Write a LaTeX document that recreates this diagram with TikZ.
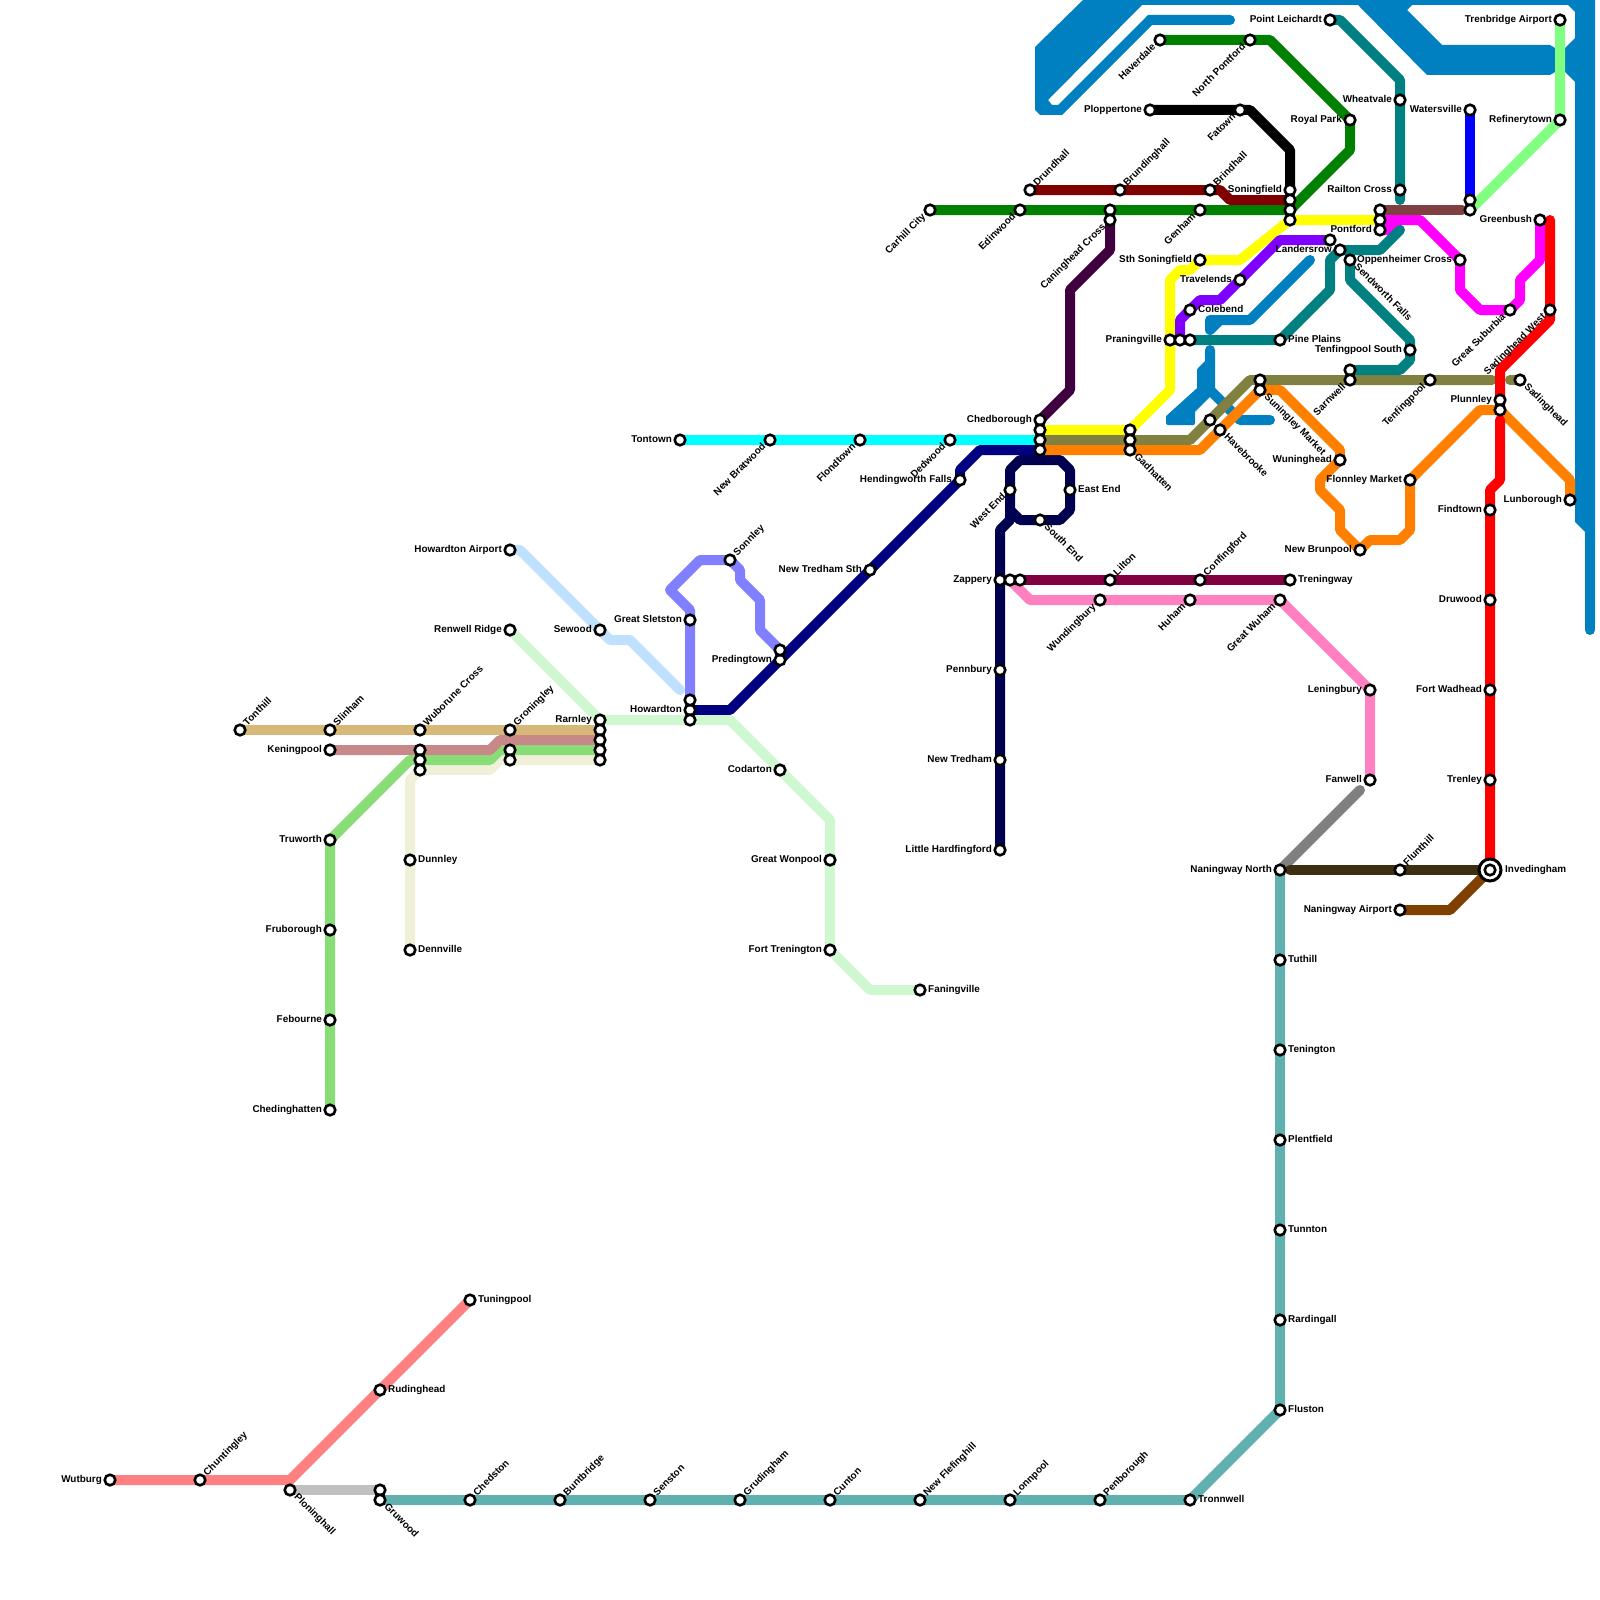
\documentclass[tikz,border=0pt]{standalone}
\usepackage{fontspec}
\setmainfont{Liberation Sans}
\pgfdeclarelayer{lines}
\pgfsetlayers{lines,main}
\tikzset{
  stn/.style={circle,draw=black,fill=white,line width=2.6pt,minimum size=10.6pt,inner sep=0pt},
  lbl/.style={font=\bfseries\fontsize{9.9}{12}\selectfont,inner sep=0pt,text=black,text height=7pt,text depth=2pt},
  ln/.style={line width=10pt,line cap=round,line join=round},
  riv/.style={fill=rivercol,draw=none}
}
\definecolor{rivercol}{HTML}{0080C0}
\definecolor{salmon}{HTML}{FF8080}
\definecolor{tealL}{HTML}{60B0B0}
\definecolor{teal2}{HTML}{008080}
\definecolor{navyD}{HTML}{000050}
\definecolor{navyB}{HTML}{000080}
\definecolor{plum}{HTML}{800040}
\definecolor{pinkL}{HTML}{FF80C0}
\definecolor{oliveL}{HTML}{808040}
\definecolor{orangeL}{HTML}{FF8000}
\definecolor{grape}{HTML}{8000FF}
\definecolor{greenD}{HTML}{008000}
\definecolor{maroonL}{HTML}{800000}
\definecolor{aubergine}{HTML}{400040}
\definecolor{rosewood}{HTML}{804040}
\definecolor{mint}{HTML}{80FF80}
\definecolor{skyL}{HTML}{C0E0FF}
\definecolor{paleG}{HTML}{D0F8D0}
\definecolor{peri}{HTML}{8080FF}
\definecolor{tanL}{HTML}{D8B878}
\definecolor{roseL}{HTML}{C88888}
\definecolor{grassL}{HTML}{88DD77}
\definecolor{creamL}{HTML}{F0F0D8}
\definecolor{sable}{HTML}{3C3010}
\definecolor{rust}{HTML}{804000}
\definecolor{pureCyan}{HTML}{00FFFF}
\definecolor{pureMag}{HTML}{FF00FF}
\definecolor{pureYel}{HTML}{FFFF00}
\definecolor{pureRed}{HTML}{FF0000}
\definecolor{pureBlue}{HTML}{0000FF}
\definecolor{greyL}{HTML}{C0C0C0}
\definecolor{greyM}{HTML}{808080}
\newcommand\stN[3]{\node[stn] (#1) at (#2,#3) {};}
\newcommand\stE[4]{\stN{#1}{#2}{#3}\node[lbl,anchor=west] at ([xshift=8pt]#1.center) {#4};}
\newcommand\stW[4]{\stN{#1}{#2}{#3}\node[lbl,anchor=east] at ([xshift=-8pt]#1.center) {#4};}
\newcommand\stNE[4]{\stN{#1}{#2}{#3}\node[lbl,anchor=west,rotate=45] at ([xshift=5.5pt,yshift=5.5pt]#1.center) {#4};}
\newcommand\stSE[4]{\stN{#1}{#2}{#3}\node[lbl,anchor=west,rotate=-45] at ([xshift=5.5pt,yshift=-5.5pt]#1.center) {#4};}
\newcommand\stSW[4]{\stN{#1}{#2}{#3}\node[lbl,anchor=east,rotate=45] at ([xshift=-5.5pt,yshift=-5.5pt]#1.center) {#4};}
\begin{document}
\begin{tikzpicture}[x=1pt,y=-1pt]
\useasboundingbox (0,0) rectangle (1600,1600);
% stations
\stW{wutburg}{110}{1480}{Wutburg}
\stNE{chuntingley}{200}{1480}{Chuntingley}
\stSE{ploninghall}{290}{1490}{Ploninghall}
\stN{grua}{380}{1490}
\stSE{gruwood}{380}{1500}{Gruwood}
\stE{tuningpool}{470}{1300}{Tuningpool}
\stE{rudinghead}{380}{1390}{Rudinghead}
\stNE{chedston}{470}{1500}{Chedston}
\stNE{buntbridge}{560}{1500}{Buntbridge}
\stNE{senston}{650}{1500}{Senston}
\stNE{grudingham}{740}{1500}{Grudingham}
\stNE{cunton}{830}{1500}{Cunton}
\stNE{flefinghill}{920}{1500}{New Flefinghill}
\stNE{lonnpool}{1010}{1500}{Lonnpool}
\stNE{penborough}{1100}{1500}{Penborough}
\stE{tronnwell}{1190}{1500}{Tronnwell}
\stE{fluston}{1280}{1410}{Fluston}
\stE{rardingall}{1280}{1320}{Rardingall}
\stE{tunnton}{1280}{1230}{Tunnton}
\stE{plentfield}{1280}{1140}{Plentfield}
\stE{tenington}{1280}{1050}{Tenington}
\stE{tuthill}{1280}{960}{Tuthill}
\stW{naningN}{1280}{870}{Naningway North}
\stNE{flunthill}{1400}{870}{Flunthill}
\stW{naningA}{1400}{910}{Naningway Airport}
\stW{fanwell}{1370}{780}{Fanwell}
\stW{leningbury}{1370}{690}{Leningbury}
\stSW{greatwuham}{1280}{600}{Great Wuham}
\stSW{huham}{1190}{600}{Huham}
\stSW{wundingbury}{1100}{600}{Wundingbury}
\stW{zappery}{1000}{580}{Zappery}
\stN{zapb}{1010}{580}
\stN{zapc}{1020}{580}
\stNE{lilton}{1110}{580}{Lilton}
\stNE{confingford}{1200}{580}{Confingford}
\stE{treningway}{1290}{580}{Treningway}
\stW{hardfingford}{1000}{850}{Little Hardfingford}
\stW{newtredham}{1000}{760}{New Tredham}
\stW{pennbury}{1000}{670}{Pennbury}
\stSW{westend}{1010}{490}{West End}
\stE{eastend}{1070}{490}{East End}
\stSE{southend}{1040}{520}{South End}
\stW{howardton}{690}{710}{Howardton}
\stN{howa}{690}{700}
\stN{howc}{690}{720}
\stW{hendingworth}{960}{480}{Hendingworth Falls}
\stSW{dedwood}{950}{440}{Dedwood}
\stW{tredhamsth}{870}{570}{New Tredham Sth}
\stW{predingtown}{780}{660}{Predingtown}
\stN{preda}{780}{650}
\stW{tontown}{680}{440}{Tontown}
\stSW{bratwood}{770}{440}{New Bratwood}
\stSW{flondtown}{860}{440}{Flondtown}
\stW{chedborough}{1040}{420}{Chedborough}
\stN{chedb}{1040}{430}
\stN{chedc}{1040}{440}
\stN{chedd}{1040}{450}
\stN{gada}{1130}{430}
\stN{gadb}{1130}{440}
\stSE{gadhatten}{1130}{450}{Gadhatten}
\stSW{carhill}{930}{210}{Carhill City}
\stSW{edinwood}{1020}{210}{Edinwood}
\stN{canina}{1110}{210}
\stSW{caninghead}{1110}{220}{Caninghead Cross}
\stSW{genham}{1200}{210}{Genham}
\stNE{drundhall}{1030}{190}{Drundhall}
\stNE{brundinghall}{1120}{190}{Brundinghall}
\stNE{brindhall}{1210}{190}{Brindhall}
\stW{soningfield}{1290}{190}{Soningfield}
\stN{sonb}{1290}{200}
\stN{sonc}{1290}{210}
\stN{sond}{1290}{220}
\stW{ploppertone}{1150}{110}{Ploppertone}
\stSW{fatown}{1240}{110}{Fatown}
\stSW{haverdale}{1160}{40}{Haverdale}
\stSW{northpontford}{1250}{40}{North Pontford}
\stW{royalpark}{1350}{120}{Royal Park}
\stW{leichardt}{1330}{20}{Point Leichardt}
\stW{wheatvale}{1400}{100}{Wheatvale}
\stW{railton}{1400}{190}{Railton Cross}
\stW{watersville}{1470}{110}{Watersville}
\stN{watb}{1470}{200}
\stN{watc}{1470}{210}
\stW{trenbridge}{1560}{20}{Trenbridge Airport}
\stW{refinerytown}{1560}{120}{Refinerytown}
\stN{ponta}{1380}{210}
\stN{pontb}{1380}{220}
\stW{pontford}{1380}{230}{Pontford}
\stN{landa}{1330}{240}
\stW{landersrow}{1340}{250}{Landersrow}
\stSE{sendworth}{1350}{260}{Sendworth Falls}
\stW{oppenheimer}{1460}{260}{Oppenheimer Cross}
\stW{greenbush}{1540}{220}{Greenbush}
\stSW{suburbia}{1510}{310}{Great Suburbia}
\stSW{sadwest}{1550}{310}{Sadinghead West}
\stSE{sadinghead}{1520}{380}{Sadinghead}
\stW{plunnley}{1500}{400}{Plunnley}
\stN{plunb}{1500}{410}
\stW{tenfsouth}{1410}{350}{Tenfingpool South}
\stSW{tenfingpool}{1430}{380}{Tenfingpool}
\stN{sarna}{1350}{370}
\stSW{sarnwell}{1350}{380}{Sarnwell}
\stW{flonnley}{1410}{480}{Flonnley Market}
\stW{wuninghead}{1340}{460}{Wuninghead}
\stN{sunia}{1260}{380}
\stSE{suningley}{1260}{390}{Suningley Market}
\stN{hava}{1210}{420}
\stSE{havebrooke}{1220}{430}{Havebrooke}
\stW{brunpool}{1360}{550}{New Brunpool}
\stW{lunborough}{1570}{500}{Lunborough}
\stW{findtown}{1490}{510}{Findtown}
\stW{druwood}{1490}{600}{Druwood}
\stW{wadhead}{1490}{690}{Fort Wadhead}
\stW{trenley}{1490}{780}{Trenley}
\node[circle,draw=black,fill=white,line width=3pt,minimum size=22pt,inner sep=0pt] (inveding) at (1490,870) {};
\stN{invedingham}{1490}{870}
\node[lbl,anchor=west] at ([xshift=15pt]invedingham.center) {Invedingham};
\stE{pineplains}{1280}{340}{Pine Plains}
\stE{colebend}{1190}{310}{Colebend}
\stW{praningville}{1170}{340}{Praningville}
\stN{prab}{1180}{340}
\stN{prac}{1190}{340}
\stW{travelends}{1240}{280}{Travelends}
\stW{sthsoning}{1200}{260}{Sth Soningfield}
\stNE{sonnley}{730}{560}{Sonnley}
\stW{sletston}{690}{620}{Great Sletston}
\stW{howairport}{510}{550}{Howardton Airport}
\stW{sewood}{600}{630}{Sewood}
\stW{renwell}{510}{630}{Renwell Ridge}
\stW{rarnley}{600}{720}{Rarnley}
\stN{rarb}{600}{730}
\stN{rarc}{600}{740}
\stN{rard}{600}{750}
\stN{rare}{600}{760}
\stW{codarton}{780}{770}{Codarton}
\stW{wonpool}{830}{860}{Great Wonpool}
\stW{trenington}{830}{950}{Fort Trenington}
\stE{faningville}{920}{990}{Faningville}
\stNE{tonthill}{240}{730}{Tonthill}
\stNE{slinham}{330}{730}{Slinham}
\stW{keningpool}{330}{750}{Keningpool}
\stNE{wuborune}{420}{730}{Wuborune Cross}
\stN{wubb}{420}{750}
\stN{wubc}{420}{760}
\stN{wubd}{420}{770}
\stNE{groningley}{510}{730}{Groningley}
\stN{grob}{510}{750}
\stN{groc}{510}{760}
\stW{truworth}{330}{840}{Truworth}
\stW{fruborough}{330}{930}{Fruborough}
\stW{febourne}{330}{1020}{Febourne}
\stW{chedinghatten}{330}{1110}{Chedinghatten}
\stE{dunnley}{410}{860}{Dunnley}
\stE{dennville}{410}{950}{Dennville}
\begin{pgfonlayer}{lines}
% river
\fill[riv,even odd rule] (1035,47)--(1083,0)--(1595,0)--(1595,625)--(1585,625)--(1585,532)--(1575,522)--(1575,82)--(1565,72)--(1555,72)--(1550,75)--(1427,75)--(1358,5)--(1142,5)--(1048,100)--(1052,105)--(1058,105)--(1148,15)--(1230,15)--(1230,25)--(1152,25)--(1062,115)--(1040,115)--(1035,110)--cycle
 (1412,5)--(1568,5)--(1575,12)--(1575,38)--(1565,48)--(1555,48)--(1550,45)--(1442,45)--(1407,10)--cycle;
\draw[ln,rivercol] (1150,20)--(1230,20);
\draw[ln,rivercol] (1590,530)--(1590,630);
\draw[ln,rivercol] (1310,260)--(1250,320)--(1220,320)--(1210,330)--(1210,320)--(1220,320);
\draw[ln,rivercol] (1210,350)--(1210,390)--(1240,420)--(1270,420);
\fill[rivercol,draw=rivercol,line width=4pt,line join=round] (1207,362)--(1199,370)--(1199,389)--(1168,417)--(1168,423)--(1193,423)--(1193,411)--(1210,394)--cycle;
% lines
\draw[ln,salmon] (wutburg.center)--(chuntingley.center)--(290,1480)--(rudinghead.center)--(tuningpool.center);
\draw[ln,greyL] (ploninghall.center)--(grua.center);
\draw[ln,tealL] (gruwood.center)--(tronnwell.center)--(fluston.center)--(naningN.center);
\draw[ln,greyM] (naningN.center)--(1360,790);
\draw[ln,pinkL] (zapb.center)--(1030,600)--(greatwuham.center)--(leningbury.center)--(fanwell.center);
\draw[ln,plum] (zapc.center)--(treningway.center);
\draw[ln,navyD] (hardfingford.center)--(1000,530)--(1010,520)--(1010,470)--(1020,460)--(1060,460)--(1070,470)--(1070,510)--(1060,520)--(1020,520)--(1010,510);
\draw[ln,navyB] (howardton.center)--(730,710)--(predingtown.center)--(hendingworth.center)--(960,470)--(980,450)--(chedd.center);
\draw[ln,pureCyan] (tontown.center)--(chedc.center);
\draw[ln,pureYel] (chedb.center)--(gada.center)--(1170,390)--(1170,280)--(1180,270)--(1190,270)--(sthsoning.center)--(1240,260)--(sond.center)--(pontb.center);
\draw[ln,oliveL] (chedc.center)--(1190,440)--(1250,380)--(1492,380);
\draw[ln,oliveL] (1510,380)--(sadinghead.center);
\draw[ln,orangeL] (chedd.center)--(1200,450)--(1260,390)--(1280,390)--(1340,450)--(wuninghead.center)--(1320,480)--(1320,490)--(1340,510)--(1340,530)--(brunpool.center)--(1370,540)--(1400,540)--(1410,530)--(flonnley.center)--(1480,410)--(plunb.center)--(1570,480)--(lunborough.center);
\draw[ln,pureRed] (1550,220)--(sadwest.center)--(1550,320)--(1500,370)--(plunb.center);
\draw[ln,pureRed] (1500,420)--(1500,480)--(1490,490)--(invedingham.center);
\draw[ln,sable] (1290,870)--(invedingham.center);
\draw[ln,rust] (naningA.center)--(1450,910)--(invedingham.center);
\draw[ln,pureMag] (pontford.center)--(1390,230)--(1400,220);
\draw[ln,pureMag] (pontb.center)--(1420,220)--(oppenheimer.center)--(1460,290)--(1480,310)--(suburbia.center)--(1520,300)--(1520,280)--(1540,260)--(greenbush.center);
\draw[ln,teal2] (leichardt.center)--(1340,20)--(1400,80)--(1400,200);
\draw[ln,teal2] (prac.center)--(pineplains.center)--(1330,290)--(1330,260)--(landersrow.center)--(1380,250)--(1400,230);
\draw[ln,teal2] (sendworth.center)--(1350,280)--(1410,340)--(1410,360)--(1400,370)--(sarna.center);
\draw[ln,grape] (prab.center)--(1180,320)--(1200,300)--(1220,300)--(1280,240)--(landa.center);
\draw[ln,greenD] (carhill.center)--(sonc.center)--(1350,150)--(royalpark.center)--(1270,40)--(haverdale.center);
\draw[ln,black] (ploppertone.center)--(1250,110)--(1290,150)--(soningfield.center);
\draw[ln,maroonL] (drundhall.center)--(1220,190)--(1230,200)--(sonb.center);
\draw[ln,aubergine] (caninghead.center)--(1110,250)--(1070,290)--(1070,390)--(chedborough.center);
\draw[ln,rosewood] (ponta.center)--(1462,210);
\draw[ln,pureBlue] (watersville.center)--(watb.center);
\draw[ln,mint] (trenbridge.center)--(refinerytown.center)--(watc.center);
\draw[ln,skyL] (howairport.center)--(520,550)--(610,640)--(630,640)--(680,690);
\draw[ln,paleG] (renwell.center)--(rarnley.center)--(730,720)--(830,820)--(830,950)--(870,990)--(faningville.center);
\draw[ln,peri] (howa.center)--(690,610)--(670,590)--(700,560)--(730,560)--(740,570)--(740,580)--(760,600)--(760,630)--(preda.center);
\draw[ln,creamL] (dennville.center)--(410,780)--(420,770)--(490,770)--(500,760)--(rare.center);
\draw[ln,grassL] (chedinghatten.center)--(truworth.center)--(410,760)--(490,760)--(500,750)--(rard.center);
\draw[ln,roseL] (keningpool.center)--(490,750)--(500,740)--(rarc.center);
\draw[ln,tanL] (tonthill.center)--(rarb.center);
\end{pgfonlayer}
\end{tikzpicture}
\end{document}
